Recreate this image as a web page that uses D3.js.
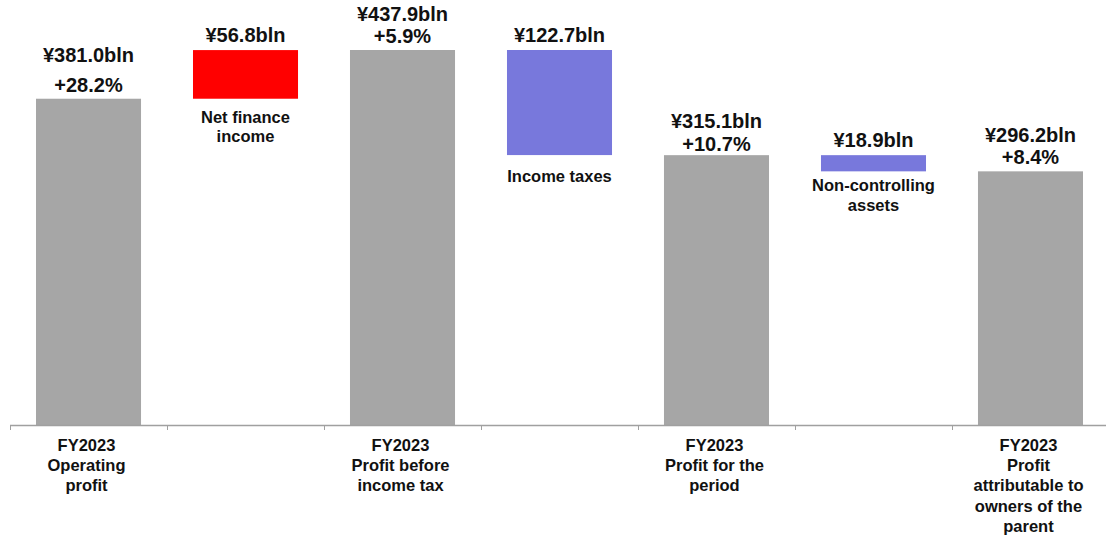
<!DOCTYPE html>
<html>
<head>
<meta charset="utf-8">
<script src="https://cdn.jsdelivr.net/npm/d3@7"></script>
<style>
  html, body { margin: 0; padding: 0; background: #fff; }
  svg { display: block; font-family: "Liberation Sans", Arial, sans-serif; font-weight: bold; }
</style>
</head>
<body>
<div id="chart"></div>
<script>
// bridge da operating profit a utile attribuibile (miliardi di yen)
const categories = ['op', 'nfi', 'pbt', 'tax', 'pfp', 'nci', 'attr'];
const kinds = ['total', 'up', 'total', 'down', 'total', 'down', 'total'];
const amounts = [381.0, 56.8, 437.9, 122.7, 315.1, 18.9, 296.2];
const valueLabels = ['¥381.0bln', '¥56.8bln', '¥437.9bln', '¥122.7bln', '¥315.1bln', '¥18.9bln', '¥296.2bln'];
const growthLabels = ['+28.2%', null, '+5.9%', null, '+10.7%', null, '+8.4%'];
const stepLabels = [null, ['Net finance', 'income'], null, ['Income taxes'], null, ['Non-controlling', 'assets'], null];
const axisLabels = [
    ['FY2023', 'Operating', 'profit'],
    [],
    ['FY2023', 'Profit before', 'income tax'],
    [],
    ['FY2023', 'Profit for the', 'period'],
    [],
    ['FY2023', 'Profit', 'attributable to', 'owners of the', 'parent']
];

const colors = { total: '#a6a6a6', up: '#ff0000', down: '#7878dc' };

const width = 1106, height = 540;
const baseY = 425;

const svg = d3.select('#chart').append('svg')
    .attr('width', width)
    .attr('height', height);

// scala x: 7 bande da 157px, barre larghe 105px
const x = d3.scaleBand()
    .domain(categories)
    .range([10, 1109])
    .paddingInner(0.331)
    .paddingOuter(0.1656);

const y = d3.scaleLinear()
    .domain([0, 437.9])
    .range([baseY, 50]);

// calcolo inizio/fine di ogni barra (waterfall)
let running = 0;
const bars = categories.map((c, i) => {
    let lo, hi;
    if (kinds[i] === 'total') {
        lo = 0; hi = amounts[i]; running = amounts[i];
    } else if (kinds[i] === 'up') {
        lo = running; hi = running + amounts[i]; running = hi;
    } else {
        hi = running; lo = running - amounts[i]; running = lo;
    }
    return { c, i, lo, hi, kind: kinds[i] };
});

svg.selectAll('.bar')
    .data(bars)
    .join('rect')
    .attr('class', 'bar')
    .attr('x', d => x(d.c))
    .attr('width', x.bandwidth())
    .attr('y', d => y(d.hi))
    .attr('height', d => y(d.lo) - y(d.hi))
    .attr('fill', d => colors[d.kind]);

// asse con tick sui confini delle categorie
const half = (x.step() - x.bandwidth()) / 2;
svg.append('line')
    .attr('x1', 10).attr('x2', width)
    .attr('y1', baseY + 0.5).attr('y2', baseY + 0.5)
    .attr('stroke', '#a0a0a0').attr('stroke-width', 1.3);

categories.forEach(c => {
    const tx = Math.round(x(c) - half) + 0.5;
    svg.append('line')
        .attr('x1', tx).attr('x2', tx)
        .attr('y1', baseY).attr('y2', baseY + 5)
        .attr('stroke', '#a0a0a0');
});

const txt = (xx, yy, s, size) => svg.append('text')
    .attr('x', xx).attr('y', yy)
    .attr('text-anchor', 'middle')
    .style('font-size', size + 'px')
    .style('fill', '#111')
    .text(s);

// distanza tra etichetta valore e percentuale (la prima è più larga)
const growthGap = [30, 0, 22, 0, 23, 0, 22];
const growthOffset = [7, 0, 7, 0, 4, 0, 7];
const stepOffset = [0, 24, 0, 27, 0, 20, 0];

bars.forEach(d => {
    const cx = x(d.c) + x.bandwidth() / 2;
    const top = y(d.hi);
    if (d.kind === 'total') {
        const gy = top - growthOffset[d.i];
        txt(cx, gy, growthLabels[d.i], 20);
        txt(cx, gy - growthGap[d.i], valueLabels[d.i], 20);
    } else {
        txt(cx, top - 8, valueLabels[d.i], 20);
        const bottom = y(d.lo);
        stepLabels[d.i].forEach((s, k) => txt(cx, bottom + stepOffset[d.i] + k * 19.2, s, 16.5));
    }
    axisLabels[d.i].forEach((s, k) => txt(cx - 2, 451 + k * 20.2, s, 16.5));
});
</script>
</body>
</html>
